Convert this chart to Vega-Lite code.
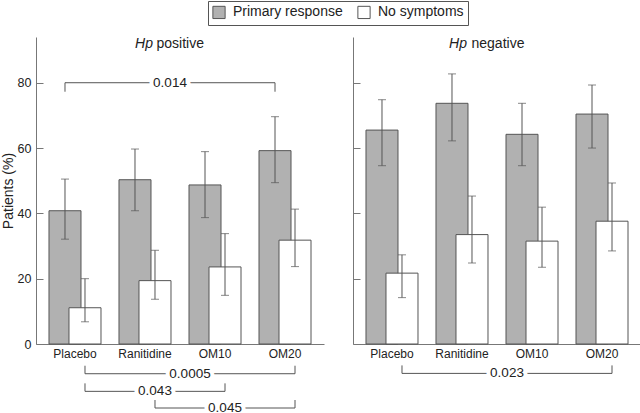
{
  "$schema": "https://vega.github.io/schema/vega-lite/v6.json",
  "autosize": {"type": "pad"},
  "padding": {"left": 1, "top": 0, "right": 0, "bottom": 0},
  "spacing": 28,
  "config": {
    "font": "Liberation Sans",
    "view": {"stroke": null},
    "axis": {"grid": false, "domainColor": "#777", "tickColor": "#777", "labelColor": "#222", "titleColor": "#222", "labelFont": "Liberation Sans", "titleFont": "Liberation Sans", "labelFontSize": 12.5},
    "legend": {"labelFont": "Liberation Sans"}
  },
  "datasets": {
    "bars": [
      {"panel": "Hp positive", "treatment": "Placebo", "series": "Primary response", "pct": 40.8, "lo": 32.1, "hi": 50.5},
      {"panel": "Hp positive", "treatment": "Ranitidine", "series": "Primary response", "pct": 50.3, "lo": 40.8, "hi": 59.7},
      {"panel": "Hp positive", "treatment": "OM10", "series": "Primary response", "pct": 48.7, "lo": 38.7, "hi": 58.9},
      {"panel": "Hp positive", "treatment": "OM20", "series": "Primary response", "pct": 59.2, "lo": 49.4, "hi": 69.6},
      {"panel": "Hp positive", "treatment": "Placebo", "series": "No symptoms", "pct": 11.1, "lo": 6.8, "hi": 20.0},
      {"panel": "Hp positive", "treatment": "Ranitidine", "series": "No symptoms", "pct": 19.4, "lo": 13.7, "hi": 28.7},
      {"panel": "Hp positive", "treatment": "OM10", "series": "No symptoms", "pct": 23.6, "lo": 14.9, "hi": 33.8},
      {"panel": "Hp positive", "treatment": "OM20", "series": "No symptoms", "pct": 31.8, "lo": 23.7, "hi": 41.3},
      {"panel": "Hp negative", "treatment": "Placebo", "series": "Primary response", "pct": 65.5, "lo": 54.6, "hi": 74.8},
      {"panel": "Hp negative", "treatment": "Ranitidine", "series": "Primary response", "pct": 73.7, "lo": 62.2, "hi": 82.7},
      {"panel": "Hp negative", "treatment": "OM10", "series": "Primary response", "pct": 64.2, "lo": 54.6, "hi": 73.7},
      {"panel": "Hp negative", "treatment": "OM20", "series": "Primary response", "pct": 70.4, "lo": 60.0, "hi": 79.3},
      {"panel": "Hp negative", "treatment": "Placebo", "series": "No symptoms", "pct": 21.7, "lo": 14.2, "hi": 27.3},
      {"panel": "Hp negative", "treatment": "Ranitidine", "series": "No symptoms", "pct": 33.5, "lo": 24.8, "hi": 45.3},
      {"panel": "Hp negative", "treatment": "OM10", "series": "No symptoms", "pct": 31.5, "lo": 23.5, "hi": 41.9},
      {"panel": "Hp negative", "treatment": "OM20", "series": "No symptoms", "pct": 37.6, "lo": 28.5, "hi": 49.3}
    ],
    "brackets": [
      {"panel": "Hp positive", "series": "Primary response", "from": "Placebo", "to": "OM20", "level": 80, "p": "0.014"},
      {"panel": "Hp positive", "series": "No symptoms", "from": "Placebo", "to": "OM20", "level": -9.1, "p": "0.0005"},
      {"panel": "Hp positive", "series": "No symptoms", "from": "Placebo", "to": "OM10", "level": -14.5, "p": "0.043"},
      {"panel": "Hp positive", "series": "No symptoms", "from": "Ranitidine", "to": "OM20", "level": -19.6, "p": "0.045"},
      {"panel": "Hp negative", "series": "No symptoms", "from": "Placebo", "to": "OM20", "level": -9.0, "p": "0.023"}
    ],
    "titles": [
      {"panel": "Hp positive", "italic": "Hp", "rest": "positive"},
      {"panel": "Hp negative", "italic": "Hp", "rest": "negative"}
    ]
  },
  "hconcat": [
    {
      "width": 288, "height": 307,
      "layer": [
        {
          "data": {"name": "bars"},
          "transform": [{"filter": "datum.panel == 'Hp positive'"}],
          "layer": [
            {
              "transform": [{"filter": "datum.series == 'Primary response'"}],
              "mark": {"type": "bar", "width": 32, "xOffset": -10, "stroke": "#555", "strokeWidth": 1},
              "encoding": {
                "x": {"field": "treatment", "type": "nominal", "title": null, "scale": {"domain": ["Placebo", "Ranitidine", "OM10", "OM20"], "paddingInner": 0, "paddingOuter": 0.057}, "axis": {"ticks": false, "labelAngle": 0, "labelPadding": 4, "labelFontSize": 12}},
                "y": {"field": "pct", "type": "quantitative", "title": "Patients (%)", "scale": {"domain": [0, 94]}, "axis": {"values": [0, 20, 40, 60, 80], "tickSize": -7, "labelPadding": 12, "titlePadding": 2, "titleFontSize": 14, "titleFontWeight": "normal"}},
                "color": {"field": "series", "type": "nominal", "scale": {"domain": ["Primary response", "No symptoms"], "range": ["#b1b1b1", "#ffffff"]}, "legend": {"orient": "none", "legendX": 172, "legendY": -36, "direction": "horizontal", "title": null, "symbolType": "square", "symbolSize": 150, "symbolStrokeColor": "#555", "symbolStrokeWidth": 1, "labelFontSize": 14, "labelColor": "#222", "labelOffset": 7, "columnPadding": 12, "padding": 4, "strokeColor": "#555"}}
              }
            },
            {
              "transform": [{"filter": "datum.series == 'Primary response'"}],
              "mark": {"type": "rule", "xOffset": -10, "color": "#555"},
              "encoding": {
                "x": {"field": "treatment", "type": "nominal", "title": null},
                "y": {"field": "lo", "type": "quantitative", "title": "Patients (%)", "scale": {"domain": [0, 94]}},
                "y2": {"field": "hi"}
              }
            },
            {
              "transform": [{"filter": "datum.series == 'Primary response'"}, {"fold": ["lo", "hi"], "as": ["bound", "v"]}],
              "mark": {"type": "tick", "orient": "horizontal", "size": 8, "thickness": 1, "xOffset": -10, "color": "#555"},
              "encoding": {
                "x": {"field": "treatment", "type": "nominal", "title": null},
                "y": {"field": "v", "type": "quantitative", "title": "Patients (%)", "scale": {"domain": [0, 94]}}
              }
            },
            {
              "transform": [{"filter": "datum.series == 'No symptoms'"}],
              "mark": {"type": "bar", "width": 32, "xOffset": 10, "stroke": "#555", "strokeWidth": 1},
              "encoding": {
                "x": {"field": "treatment", "type": "nominal", "title": null},
                "y": {"field": "pct", "type": "quantitative", "title": "Patients (%)", "scale": {"domain": [0, 94]}},
                "color": {"field": "series", "type": "nominal"}
              }
            },
            {
              "transform": [{"filter": "datum.series == 'No symptoms'"}],
              "mark": {"type": "rule", "xOffset": 10, "color": "#555"},
              "encoding": {
                "x": {"field": "treatment", "type": "nominal", "title": null},
                "y": {"field": "lo", "type": "quantitative", "title": "Patients (%)", "scale": {"domain": [0, 94]}},
                "y2": {"field": "hi"}
              }
            },
            {
              "transform": [{"filter": "datum.series == 'No symptoms'"}, {"fold": ["lo", "hi"], "as": ["bound", "v"]}],
              "mark": {"type": "tick", "orient": "horizontal", "size": 8, "thickness": 1, "xOffset": 10, "color": "#555"},
              "encoding": {
                "x": {"field": "treatment", "type": "nominal", "title": null},
                "y": {"field": "v", "type": "quantitative", "title": "Patients (%)", "scale": {"domain": [0, 94]}}
              }
            }
          ]
        },
        {
          "data": {"name": "brackets"},
          "transform": [{"filter": "datum.panel == 'Hp positive'"}],
          "layer": [
            {
              "transform": [{"filter": "datum.series == 'Primary response'"}],
              "mark": {"type": "rule", "xOffset": -10, "x2Offset": -10, "color": "#555"},
              "encoding": {
                "x": {"field": "from", "type": "nominal", "title": null},
                "x2": {"field": "to"},
                "y": {"field": "level", "type": "quantitative", "title": "Patients (%)", "scale": {"domain": [0, 94]}}
              }
            },
            {
              "transform": [{"filter": "datum.series == 'No symptoms'"}],
              "mark": {"type": "rule", "xOffset": 10, "x2Offset": 10, "color": "#555"},
              "encoding": {
                "x": {"field": "from", "type": "nominal", "title": null},
                "x2": {"field": "to"},
                "y": {"field": "level", "type": "quantitative", "title": "Patients (%)", "scale": {"domain": [0, 94]}}
              }
            },
            {
              "transform": [{"filter": "datum.series == 'Primary response'"}, {"fold": ["from", "to"], "as": ["end", "treat"]}],
              "mark": {"type": "rule", "xOffset": -10, "y2Offset": 9, "color": "#555"},
              "encoding": {
                "x": {"field": "treat", "type": "nominal", "title": null},
                "y": {"field": "level", "type": "quantitative", "title": "Patients (%)", "scale": {"domain": [0, 94]}},
                "y2": {"field": "level"}
              }
            },
            {
              "transform": [{"filter": "datum.series == 'No symptoms'"}, {"fold": ["from", "to"], "as": ["end", "treat"]}],
              "mark": {"type": "rule", "xOffset": 10, "y2Offset": -8, "color": "#555"},
              "encoding": {
                "x": {"field": "treat", "type": "nominal", "title": null},
                "y": {"field": "level", "type": "quantitative", "title": "Patients (%)", "scale": {"domain": [0, 94]}},
                "y2": {"field": "level"}
              }
            },
            {
              "transform": [{"filter": "datum.series == 'Primary response'"}],
              "encoding": {
                "x": {"datum": "Ranitidine", "type": "nominal", "bandPosition": 1, "title": null},
                "y": {"field": "level", "type": "quantitative", "title": "Patients (%)", "scale": {"domain": [0, 94]}},
                "text": {"field": "p"}
              },
              "layer": [
                {"mark": {"type": "text", "xOffset": -10, "fontSize": 13.5, "color": "white", "stroke": "white", "strokeWidth": 8, "strokeJoin": "round"}},
                {"mark": {"type": "text", "xOffset": -10, "fontSize": 13.5, "color": "#222"}}
              ]
            },
            {
              "transform": [{"filter": "datum.series == 'No symptoms' && datum.from == 'Placebo' && datum.to == 'OM20'"}],
              "encoding": {
                "x": {"datum": "Ranitidine", "type": "nominal", "bandPosition": 1, "title": null},
                "y": {"field": "level", "type": "quantitative", "title": "Patients (%)", "scale": {"domain": [0, 94]}},
                "text": {"field": "p"}
              },
              "layer": [
                {"mark": {"type": "text", "xOffset": 10, "fontSize": 13.5, "color": "white", "stroke": "white", "strokeWidth": 8, "strokeJoin": "round"}},
                {"mark": {"type": "text", "xOffset": 10, "fontSize": 13.5, "color": "#222"}}
              ]
            },
            {
              "transform": [{"filter": "datum.series == 'No symptoms' && datum.from == 'Placebo' && datum.to == 'OM10'"}],
              "encoding": {
                "x": {"datum": "Ranitidine", "type": "nominal", "title": null},
                "y": {"field": "level", "type": "quantitative", "title": "Patients (%)", "scale": {"domain": [0, 94]}},
                "text": {"field": "p"}
              },
              "layer": [
                {"mark": {"type": "text", "xOffset": 10, "fontSize": 13.5, "color": "white", "stroke": "white", "strokeWidth": 8, "strokeJoin": "round"}},
                {"mark": {"type": "text", "xOffset": 10, "fontSize": 13.5, "color": "#222"}}
              ]
            },
            {
              "transform": [{"filter": "datum.series == 'No symptoms' && datum.from == 'Ranitidine' && datum.to == 'OM20'"}],
              "encoding": {
                "x": {"datum": "OM10", "type": "nominal", "title": null},
                "y": {"field": "level", "type": "quantitative", "title": "Patients (%)", "scale": {"domain": [0, 94]}},
                "text": {"field": "p"}
              },
              "layer": [
                {"mark": {"type": "text", "xOffset": 10, "fontSize": 13.5, "color": "white", "stroke": "white", "strokeWidth": 8, "strokeJoin": "round"}},
                {"mark": {"type": "text", "xOffset": 10, "fontSize": 13.5, "color": "#222"}}
              ]
            }
          ]
        },
        {
          "data": {"name": "titles"},
          "transform": [{"filter": "datum.panel == 'Hp positive'"}],
          "encoding": {
            "x": {"datum": "Ranitidine", "type": "nominal", "bandPosition": 1, "title": null},
            "y": {"datum": 92, "type": "quantitative", "title": "Patients (%)", "scale": {"domain": [0, 94]}}
          },
          "layer": [
            {"mark": {"type": "text", "align": "right", "xOffset": -27, "fontSize": 14, "fontStyle": "italic", "color": "#222"}, "encoding": {"text": {"field": "italic"}}},
            {"mark": {"type": "text", "align": "left", "xOffset": -23.5, "fontSize": 14, "color": "#222"}, "encoding": {"text": {"field": "rest"}}}
          ]
        }
      ]
    },
    {
      "width": 288, "height": 307,
      "layer": [
        {
          "data": {"name": "bars"},
          "transform": [{"filter": "datum.panel == 'Hp negative'"}],
          "layer": [
            {
              "transform": [{"filter": "datum.series == 'Primary response'"}],
              "mark": {"type": "bar", "width": 32, "xOffset": -10, "stroke": "#555", "strokeWidth": 1},
              "encoding": {
                "x": {"field": "treatment", "type": "nominal", "title": null, "scale": {"domain": ["Placebo", "Ranitidine", "OM10", "OM20"], "paddingInner": 0, "paddingOuter": 0.057}, "axis": {"ticks": false, "labelAngle": 0, "labelPadding": 4, "labelFontSize": 12}},
                "y": {"field": "pct", "type": "quantitative", "title": null, "scale": {"domain": [0, 94]}, "axis": {"values": [0, 20, 40, 60, 80], "tickSize": -7, "labels": false}},
                "color": {"field": "series", "type": "nominal"}
              }
            },
            {
              "transform": [{"filter": "datum.series == 'Primary response'"}],
              "mark": {"type": "rule", "xOffset": -10, "color": "#555"},
              "encoding": {
                "x": {"field": "treatment", "type": "nominal", "title": null},
                "y": {"field": "lo", "type": "quantitative", "title": null, "scale": {"domain": [0, 94]}},
                "y2": {"field": "hi"}
              }
            },
            {
              "transform": [{"filter": "datum.series == 'Primary response'"}, {"fold": ["lo", "hi"], "as": ["bound", "v"]}],
              "mark": {"type": "tick", "orient": "horizontal", "size": 8, "thickness": 1, "xOffset": -10, "color": "#555"},
              "encoding": {
                "x": {"field": "treatment", "type": "nominal", "title": null},
                "y": {"field": "v", "type": "quantitative", "title": null, "scale": {"domain": [0, 94]}}
              }
            },
            {
              "transform": [{"filter": "datum.series == 'No symptoms'"}],
              "mark": {"type": "bar", "width": 32, "xOffset": 10, "stroke": "#555", "strokeWidth": 1},
              "encoding": {
                "x": {"field": "treatment", "type": "nominal", "title": null},
                "y": {"field": "pct", "type": "quantitative", "title": null, "scale": {"domain": [0, 94]}},
                "color": {"field": "series", "type": "nominal"}
              }
            },
            {
              "transform": [{"filter": "datum.series == 'No symptoms'"}],
              "mark": {"type": "rule", "xOffset": 10, "color": "#555"},
              "encoding": {
                "x": {"field": "treatment", "type": "nominal", "title": null},
                "y": {"field": "lo", "type": "quantitative", "title": null, "scale": {"domain": [0, 94]}},
                "y2": {"field": "hi"}
              }
            },
            {
              "transform": [{"filter": "datum.series == 'No symptoms'"}, {"fold": ["lo", "hi"], "as": ["bound", "v"]}],
              "mark": {"type": "tick", "orient": "horizontal", "size": 8, "thickness": 1, "xOffset": 10, "color": "#555"},
              "encoding": {
                "x": {"field": "treatment", "type": "nominal", "title": null},
                "y": {"field": "v", "type": "quantitative", "title": null, "scale": {"domain": [0, 94]}}
              }
            }
          ]
        },
        {
          "data": {"name": "brackets"},
          "transform": [{"filter": "datum.panel == 'Hp negative'"}],
          "layer": [
            {
              "mark": {"type": "rule", "xOffset": 10, "x2Offset": 10, "color": "#555"},
              "encoding": {
                "x": {"field": "from", "type": "nominal", "title": null},
                "x2": {"field": "to"},
                "y": {"field": "level", "type": "quantitative", "title": null, "scale": {"domain": [0, 94]}}
              }
            },
            {
              "transform": [{"fold": ["from", "to"], "as": ["end", "treat"]}],
              "mark": {"type": "rule", "xOffset": 10, "y2Offset": -8, "color": "#555"},
              "encoding": {
                "x": {"field": "treat", "type": "nominal", "title": null},
                "y": {"field": "level", "type": "quantitative", "title": null, "scale": {"domain": [0, 94]}},
                "y2": {"field": "level"}
              }
            },
            {
              "encoding": {
                "x": {"datum": "Ranitidine", "type": "nominal", "bandPosition": 1, "title": null},
                "y": {"field": "level", "type": "quantitative", "title": null, "scale": {"domain": [0, 94]}},
                "text": {"field": "p"}
              },
              "layer": [
                {"mark": {"type": "text", "xOffset": 10, "fontSize": 13.5, "color": "white", "stroke": "white", "strokeWidth": 8, "strokeJoin": "round"}},
                {"mark": {"type": "text", "xOffset": 10, "fontSize": 13.5, "color": "#222"}}
              ]
            }
          ]
        },
        {
          "data": {"name": "titles"},
          "transform": [{"filter": "datum.panel == 'Hp negative'"}],
          "encoding": {
            "x": {"datum": "Ranitidine", "type": "nominal", "bandPosition": 1, "title": null},
            "y": {"datum": 92, "type": "quantitative", "title": null, "scale": {"domain": [0, 94]}}
          },
          "layer": [
            {"mark": {"type": "text", "align": "right", "xOffset": -30, "fontSize": 14, "fontStyle": "italic", "color": "#222"}, "encoding": {"text": {"field": "italic"}}},
            {"mark": {"type": "text", "align": "left", "xOffset": -25.5, "fontSize": 14, "color": "#222"}, "encoding": {"text": {"field": "rest"}}}
          ]
        }
      ]
    }
  ]
}
